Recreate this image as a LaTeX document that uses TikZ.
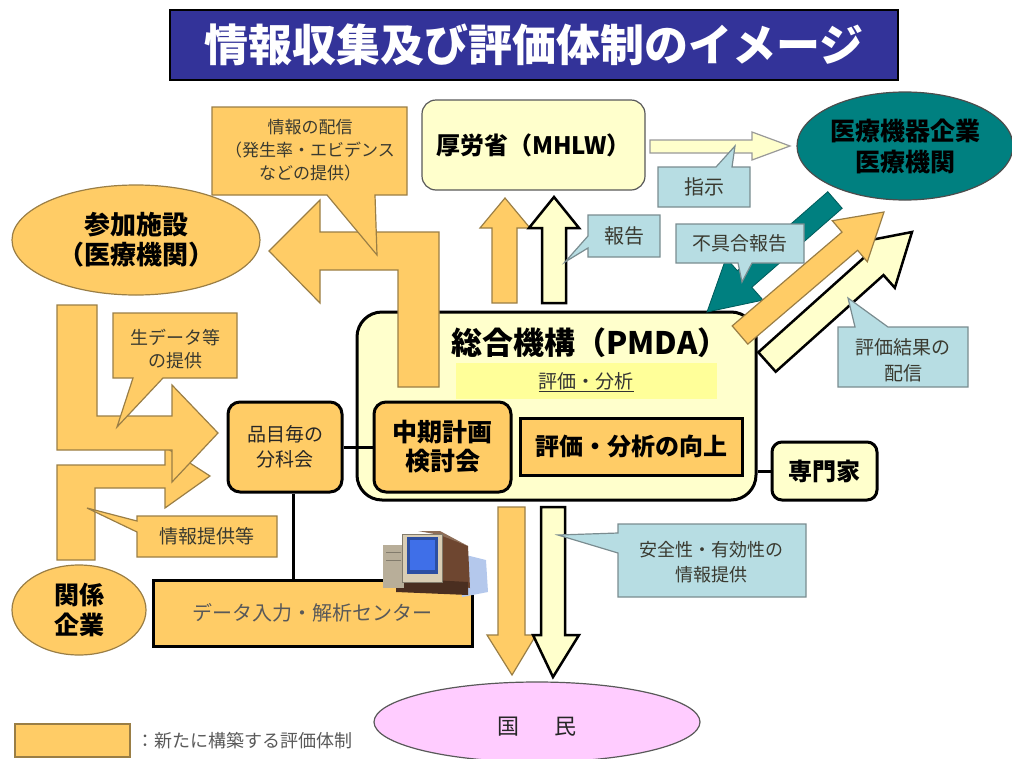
\documentclass[tikz,border=0pt]{standalone}
\usepackage{fontspec}
\setmainfont{Noto Sans CJK JP}
\usetikzlibrary{shapes.geometric,calc}

\definecolor{orng}{HTML}{FFCC66}
\definecolor{orngline}{HTML}{9A7E45}
\definecolor{ivory}{HTML}{FFFFCC}
\definecolor{hilite}{HTML}{FFFF99}
\definecolor{cyanbox}{HTML}{B7DDE3}
\definecolor{cyanline}{HTML}{7A8C90}
\definecolor{tealfill}{HTML}{008080}
\definecolor{titleblue}{HTML}{333399}
\definecolor{pinkfill}{HTML}{FFCCFF}
\definecolor{calltext}{HTML}{3A3A30}
\definecolor{pcbeige}{HTML}{D9CDB4}
\definecolor{pcbrown}{HTML}{6E4630}
\definecolor{pcdark}{HTML}{4A2E20}
\definecolor{pcscreen}{HTML}{3F6FE8}
\definecolor{pcshadow}{HTML}{B4C8EC}

\newcommand\jpsize[2]{\fontsize{#1}{#2}\selectfont}

\tikzset{
  orangeshape/.style={fill=orng, draw=orngline, line width=1.2pt, line join=miter},
  ivoryarrow/.style={fill=ivory, draw=black, line width=2.5pt, line join=miter},
  orngcallout/.style={fill=orng, draw=orngline, line width=1.2pt, line join=miter},
  bluecallout/.style={fill=cyanbox, draw=cyanline, line width=1.2pt, line join=miter},
  blackbox/.style={draw=black, line width=3pt, inner sep=0pt, align=center},
  txt/.style={inner sep=0pt, align=center},
  calltxt/.style={txt, text=calltext},
  oval/.style={ellipse, inner sep=0pt, align=center},
  wire/.style={draw=black, line width=3pt}
}

\begin{document}
\begin{tikzpicture}[x=1pt,y=-1pt]
\useasboundingbox (0,0) rectangle (1012,758);

% heading bar
\node[fill=titleblue, draw=black, line width=2pt, minimum width=728pt, minimum height=70pt,
      text=white, font=\jpsize{44}{50}\bfseries] (title) at (534,45) {情報収集及び評価体制のイメージ};

% participating facilities
\node[oval, orangeshape, minimum width=248pt, minimum height=110pt,
      font=\jpsize{26}{30}\bfseries] (sanka) at (136,240) {参加施設\\（医療機関）};

% PMDA frame
\node[blackbox, fill=ivory, rounded corners=25pt, minimum width=399pt, minimum height=188pt] (pmda) at (556.5,406) {};
\node[txt, font=\jpsize{31}{36}\bfseries] (pmdatitle) at (590,343) {総合機構（PMDA）};
\node[fill=hilite, inner sep=0pt, minimum width=261pt, minimum height=36pt] (hl) at (586.5,381) {};
\node[txt, font=\jpsize{19}{22}, text=black!80] (hltext) at (586,382) {\underline{評価・分析}};

% L-shaped arrow towards participating facilities
\draw[orangeshape] (439,232) -- (439,387) -- (398,387) -- (398,270) -- (320,270) -- (320,303)
   -- (269,251) -- (320,200) -- (320,232) -- cycle;

% callout: distribution of information
\draw[orngcallout] (212,107) -- (407,107) -- (407,195) -- (375,195) -- (377,255) -- (327,195) -- (212,195) -- cycle;
\node[calltxt, font=\jpsize{17}{23}] (haishin) at (310,150) {情報の配信\\（発生率・エビデンス\\などの提供）};

% ministry
\node[draw=gray!70!black, line width=1.2pt, fill=ivory, rounded corners=14pt, minimum width=223pt,
      minimum height=90pt, inner sep=0pt, font=\jpsize{24}{28}\bfseries] (mhlw) at (533.5,145) {厚労省（MHLW）};

% upward arrows PMDA -> ministry
\draw[orangeshape] (492,303) -- (492,228) -- (480,228) -- (505,198) -- (530,228) -- (517,228) -- (517,303) -- cycle;
\draw[ivoryarrow] (542,303) -- (542,228) -- (529,228) -- (554,197) -- (579,228) -- (566,228) -- (566,303) -- cycle;

% callout: report
\draw[bluecallout] (588,215) -- (660,215) -- (660,257) -- (588,257) -- (588,248) -- (565,262) -- (588,236) -- cycle;
\node[calltxt, font=\jpsize{20}{24}] (hokoku) at (624,236) {報告};

% ministry -> companies arrow
\draw[fill=ivory, draw=gray!80, line width=1.2pt] (650,140) -- (752,140) -- (752,132) -- (790,146)
   -- (752,160) -- (752,153) -- (650,153) -- cycle;
\draw[bluecallout] (658,167) -- (716,167) -- (735,146) -- (732,167) -- (750,167) -- (750,207) -- (658,207) -- cycle;
\node[calltxt, font=\jpsize{20}{24}] (shiji) at (704,187) {指示};

% companies / medical institutions
\node[oval, fill=tealfill, draw=black!70, line width=1.2pt, minimum width=216pt, minimum height=108pt,
      font=\jpsize{25}{31}\bfseries] (kigyo) at (905,146) {医療機器企業\\医療機関};

% defect report arrow
\draw[fill=tealfill, draw=tealfill!70!black, line width=0.8pt] (827.8,191.7) -- (842.2,208.3) -- (751.8,287.3)
   -- (763.1,300.1) -- (707,312) -- (726.1,257.9) -- (737.4,270.7) -- cycle;
\draw[bluecallout] (676,224) -- (804,224) -- (804,263) -- (752,263) -- (742,282) -- (738,263) -- (676,263) -- cycle;
\node[calltxt, font=\jpsize{19}{23}] (fuguai) at (740,243) {不具合報告};

% result distribution arrows
\draw[ivoryarrow] (758.3,352.3) -- (866.1,255.7) -- (854.8,243.1) -- (912,232) -- (894.8,287.8)
   -- (883.5,275.1) -- (775.7,371.7) -- cycle;
\draw[orangeshape] (732.2,325.9) -- (842.0,232.1) -- (832.3,220.7) -- (884,212) -- (867.3,261.7)
   -- (857.6,250.3) -- (747.8,344.1) -- cycle;
\draw[bluecallout] (838,327) -- (855,327) -- (848,298) -- (888,327) -- (968,327) -- (968,387) -- (838,387) -- cycle;
\node[calltxt, font=\jpsize{19}{26}] (kekka) at (903,360) {評価結果の\\配信};

% boxes inside PMDA
\node[blackbox, fill=orng, rounded corners=12pt, minimum width=137pt, minimum height=90pt,
      font=\jpsize{25}{29}\bfseries] (chuki) at (442.5,447) {中期計画\\検討会};
\node[blackbox, fill=orng, minimum width=222pt, minimum height=57pt,
      font=\jpsize{24}{28}\bfseries] (kojo) at (631,446.5) {評価・分析の向上};

% experts
\node[blackbox, fill=ivory, rounded corners=10pt, minimum width=105pt, minimum height=58pt,
      font=\jpsize{24}{28}\bfseries] (senmon) at (824.5,471) {専門家};
\draw[wire] (senmon.west) -- (senmon.west -| pmda.east);

% data arrows from the left
\draw[orangeshape] (57,560) -- (57,465) -- (165,465) -- (165,447) -- (210,476) -- (165,508)
   -- (165,488) -- (95,488) -- (95,560) -- cycle;
\draw[orangeshape] (57,305) -- (97,305) -- (97,416) -- (172,416) -- (172,385) -- (218,433)
   -- (172,482) -- (172,450) -- (57,450) -- cycle;
\draw[orngcallout] (113,313) -- (237,313) -- (237,378) -- (163,378) -- (117,427) -- (133,378) -- (113,378) -- cycle;
\node[calltxt, font=\jpsize{18}{23}] (rawdata) at (175,349) {生データ等\\の提供};
\draw[orngcallout] (137,516) -- (277,516) -- (277,557) -- (137,557) -- (137,532) -- (87,508) -- (137,521) -- cycle;
\node[calltxt, font=\jpsize{19}{23}] (teikyo) at (207,536) {情報提供等};

% subcommittee per product
\node[blackbox, fill=orng, rounded corners=12pt, minimum width=114pt, minimum height=90pt,
      font=\jpsize{19}{25}, text=black!85] (bunka) at (285,447) {品目毎の\\分科会};
\draw[wire] (bunka.east) -- (chuki.west);

% related companies
\node[oval, orangeshape, minimum width=134pt, minimum height=90pt,
      font=\jpsize{25}{30}\bfseries] (kankei) at (79,610) {関係\\企業};

% data entry and analysis centre
\node[blackbox, fill=orng, minimum width=319pt, minimum height=66pt,
      font=\jpsize{20}{24}, text=black!65] (center) at (312.5,613) {データ入力・解析センター};
\draw[wire] ([xshift=8pt]bunka.south) -- ([xshift=8pt]bunka.south |- center.north);

% computer: shadow, cabinet, base, drive unit, front bezel, screen
\fill[pcshadow] (458,553) -- (486,560) -- (488,592) -- (462,597) -- cycle;
\fill[pcbrown] (440,534) -- (468,546) -- (470,588) -- (440,582) -- cycle;
\fill[pcbrown!70!pcbeige] (418,531) -- (440,531) -- (468,546) -- (440,535) -- cycle;
\fill[pcdark] (396,578) -- (468,582) -- (468,595) -- (396,592) -- cycle;
\fill[pcbeige!85!black] (383,545) -- (404,545) -- (404,588) -- (383,588) -- cycle;
\draw[pcbeige!60!black, line width=0.6pt] (386,552) -- (401,552) (386,560) -- (401,560);
\draw[fill=pcbeige, draw=pcbeige!60!black, line width=0.6pt] (402,534) rectangle (442,582);
\fill[pcscreen!70!black] (407,537) rectangle (438,574);
\fill[pcscreen] (410,540) rectangle (435,570);

% citizens
\node[oval, fill=pinkfill, draw=gray!70!black, line width=1.2pt, minimum width=326pt, minimum height=80pt] (kokumin) at (537,722) {};
\node[txt, font=\jpsize{22}{26}, text=black!85] (kokumintxt) at (537,727) {国\hspace{36pt}民};

% downward arrows PMDA -> citizens
\draw[orangeshape] (498,507) -- (525,507) -- (525,635) -- (536,635) -- (512,675) -- (487,635) -- (498,635) -- cycle;
\draw[ivoryarrow] (541,507) -- (565,507) -- (565,635) -- (579,635) -- (553,677) -- (533,635) -- (541,635) -- cycle;
\draw[bluecallout] (618,524) -- (806,524) -- (806,597) -- (618,597) -- (618,553) -- (558,535) -- (618,533) -- cycle;
\node[calltxt, font=\jpsize{18}{25}] (anzen) at (711,562) {安全性・有効性の\\情報提供};

% key
\node[orangeshape, minimum width=115pt, minimum height=33pt, inner sep=0pt] (key) at (72.5,740.5) {};
\node[txt, anchor=west, font=\jpsize{18}{22}, text=black!65] (keytext) at ([xshift=6pt]key.east) {：新たに構築する評価体制};

\end{tikzpicture}
\end{document}
